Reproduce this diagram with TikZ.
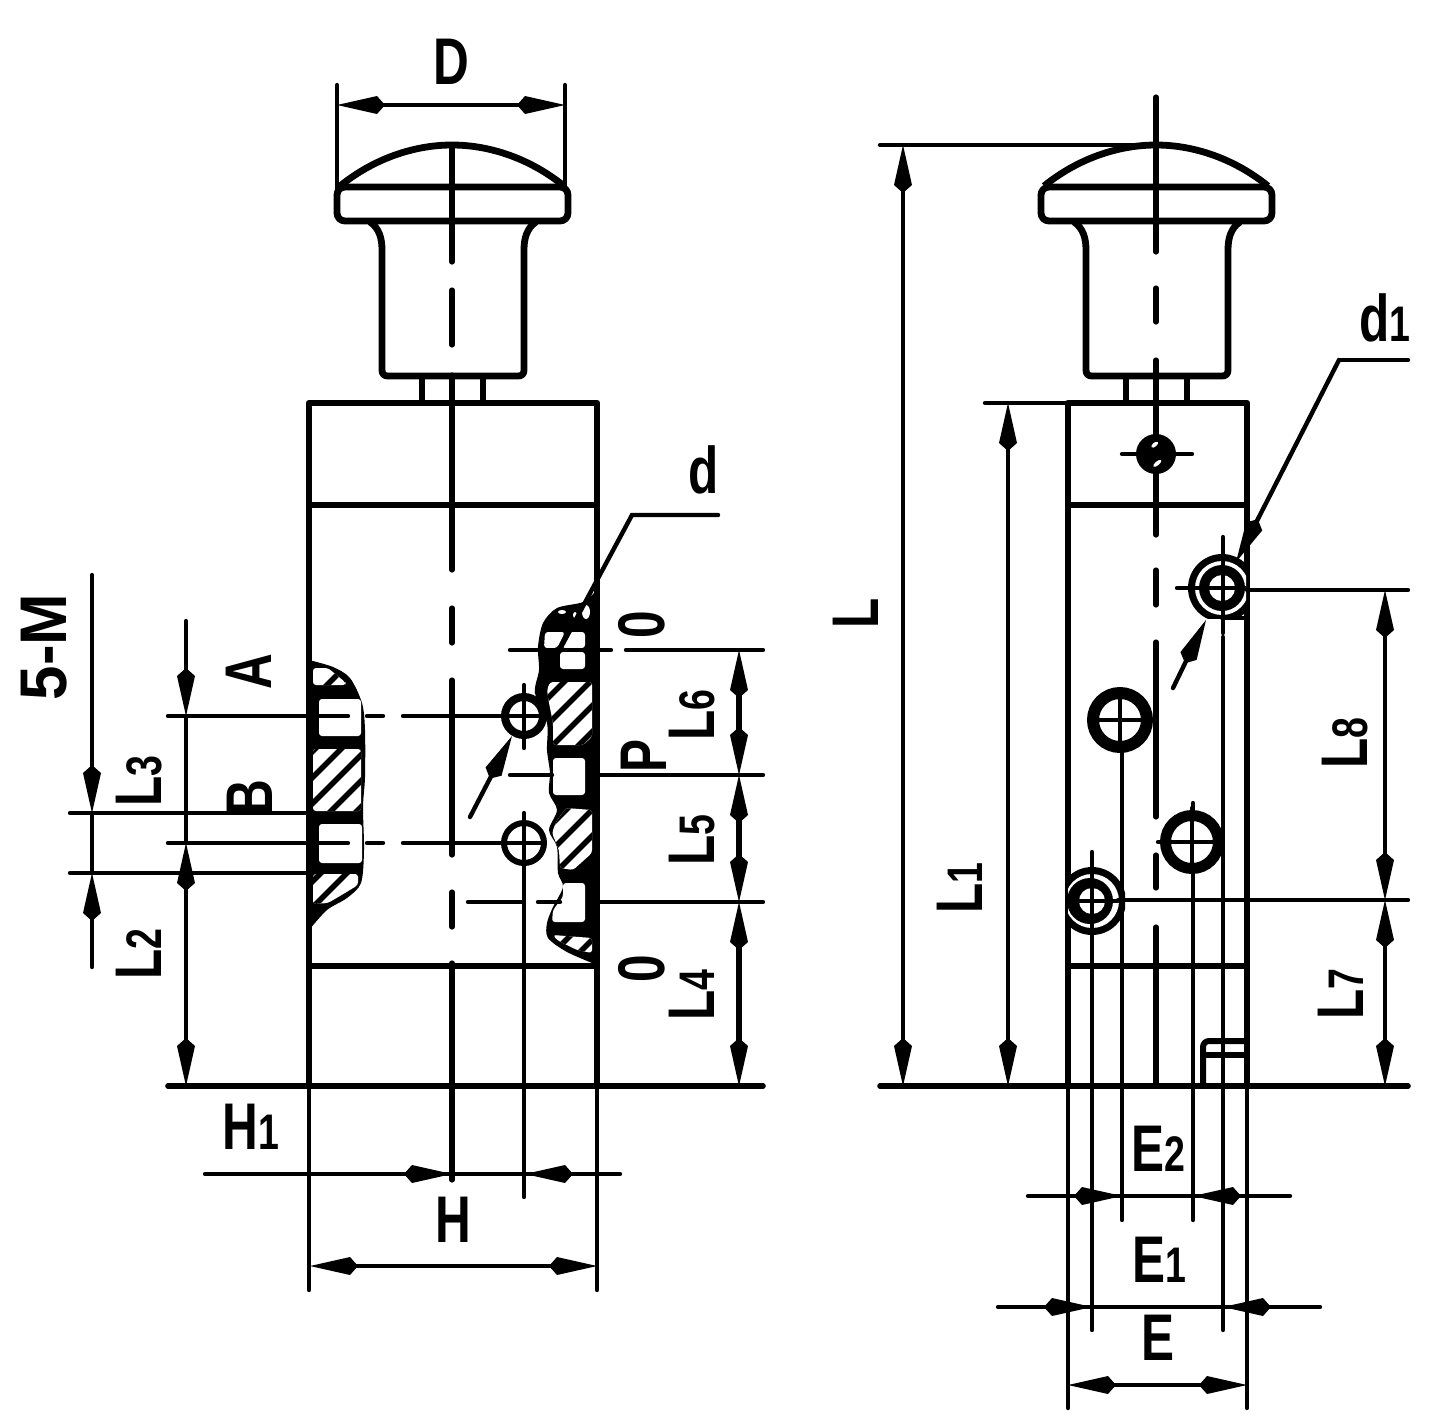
\documentclass[tikz,border=0pt]{standalone}
\usepackage{fontspec}
\setmainfont{Liberation Sans}
\usetikzlibrary{arrows.meta}
\newcommand{\idx}[1]{{\fontsize{25}{25}\selectfont #1}}
\newcommand{\hatchcell}[1]{%
  \begin{scope}
    \clip[rounded corners=1.5pt] #1;
    \fill[white] (0,0) rectangle (1447,1426);
    \foreach \c in {1012,1038,...,1610} \draw[hatchline] ({\c-500},500) -- ({\c-1100},1100);
  \end{scope}}
\tikzset{%
  >={Kite[length=24pt,width=9pt,inset=4pt]},
  outline/.style={draw,line width=3.4pt,line join=round},
  thinline/.style={draw,line width=2.2pt,line cap=round},
  hatchline/.style={line width=2.8pt},
  portcell/.style={fill=white,rounded corners=1.5pt},
  dimline/.style={thinline,<->},
  tipline/.style={thinline,->},
  dimlabel/.style={inner sep=0pt,xscale=.75,font=\fontsize{33}{33}\selectfont\bfseries},
  rotlabel/.style={rotate=90,dimlabel},
}
\begin{document}
\begin{tikzpicture}[x=0.5pt,y=-0.5pt]
  \useasboundingbox (0,0) rectangle (1447,1426);

  % Knob, neck and stem of both views
  \foreach \cx in {452,1156} {
    \begin{scope}[shift={(\cx,0)}]
      \path[outline] (-112,186) .. controls (-80,160) and (-40,145) .. (0,145) .. controls (40,145) and (80,160) .. (112,186);
      \path[outline,rounded corners=4pt] (-115,187) rectangle (116,221);
      \path[outline] (-82,222) .. controls (-73,228) and (-70,238) .. (-70,250) -- (-70,370)
        .. controls (-70,374) and (-68,376) .. (-64,376) -- (66,376) .. controls (70,376) and (72,374) .. (72,370)
        -- (72,250) .. controls (72,238) and (75,228) .. (84,222);
      \path[thinline,line width=3pt,line cap=butt] (-30,376) -- (-30,403) (31,376) -- (31,403);
    \end{scope}
  }

  % Front view, cut-away on the left side
  \fill plot[smooth] coordinates {(309,660) (333,667) (350,678) (362,703) (365,730) (365,777) (363,807) (364,850) (361,883) (347,898) (327,910) (309,930)} -- cycle;
  \hatchcell{(313,668) -- (328,668) -- (345,682) -- (346,685) -- (313,685) -- cycle}
  \fill[portcell] (319,699) rectangle (361,736);
  \hatchcell{(313,749) rectangle (361,811)}
  \fill[portcell] (319,824) rectangle (362,863);
  \hatchcell{(313,874) -- (358,874) -- (358,885) -- (345,893) -- (328,903) -- (313,904) -- cycle}

  % Front view, cut-away on the right side
  \fill plot[smooth] coordinates {(597,590) (583,602) (557,608) (543,623) (538,647) (539,670) (535,693) (547,723) (547,750) (550,773) (549,793) (557,810) (549,830) (557,847) (558,873) (563,887) (553,907) (547,923) (548,938) (567,952) (597,965)} -- cycle;
  \fill[white] (562,612) ellipse (4 and 2) (575,615) ellipse (2 and 3) (586,612) ellipse (4 and 7);
  \fill[portcell] (545,632) -- (565,632) -- (557,648) -- (544,648) -- cycle;
  \fill[portcell] (570,632) -- (585,632) -- (585,648) -- (562,648) -- cycle;
  \fill[portcell] (560,652) rectangle (585,669);
  \hatchcell{(550,682) -- (592,682) -- (592,737) -- (583,745) -- (553,745) -- (553,723) -- (549,703) -- (547,690) -- cycle}
  \fill[portcell] (553,758) rectangle (585,795);
  \hatchcell{(566,808) -- (592,810) -- (592,853) -- (573,870) -- (560,868) -- (559,850) -- (552,833) -- (556,822) -- cycle}
  \fill[portcell] (563,883) -- (585,883) -- (585,922) -- (552,922) -- (553,910) -- (563,897) -- cycle;
  \hatchcell{(553,935) -- (592,938) -- (592,953) -- (577,950) -- (557,940) -- cycle}

  % Front view, body
  \path[outline] (309,403) rectangle (597,1086);
  \path[outline] (309,505) -- (597,505) (309,966) -- (597,966);

  % Front view, centre line and holes
  \foreach \ya/\yb in {145/262,290/345,375/570,608/643,680/855,892/927,963/1180}
    \path[thinline,line width=2.6pt] (452,\ya) -- (452,\yb);
  \path[thinline] (168,716) -- (348,716) (367,716) -- (383,716) (403,716) -- (500,716);
  \path[thinline] (168,843) -- (348,843) (367,843) -- (383,843) (403,843) -- (503,843);
  \path[thinline] (524,685) -- (524,748) (524,813) -- (524,1197);
  \path[draw,line width=4pt,fill=white] (524,716) circle (19);
  \path[draw,line width=3pt,fill=white] (524,843) circle (20);
  \path[thinline] (505,716) -- (543,716) (524,697) -- (524,735) (505,843) -- (543,843) (524,823) -- (524,862);
  \path[tipline] (470,817) -- (512,736);
  \path[thinline] (718,515) -- (632,515) -- (537,692);

  % Front view, extension lines
  \path[thinline] (510,650) -- (611,650) (626,650) -- (763,650);
  \path[thinline] (510,775) -- (552,775) (597,775) -- (763,775);
  \path[thinline] (468,902) -- (524,902) (538,902) -- (560,902) (597,902) -- (763,902);
  \path[thinline,line width=2.8pt] (168,1086) -- (763,1086);
  \path[thinline] (70,813) -- (309,813) (70,873) -- (309,873);
  \path[thinline] (337,85) -- (337,190) (565,85) -- (565,190);
  \path[thinline] (309,1086) -- (309,1290) (597,1086) -- (597,1290);

  % Front view, dimensions
  \path[dimline] (337,105) -- (565,105);
  \path[tipline] (186,621) -- (186,716);
  \path[thinline] (186,716) -- (186,843);
  \path[dimline] (186,843) -- (186,1086);
  \path[tipline] (92,575) -- (92,813);
  \path[thinline] (92,813) -- (92,873);
  \path[tipline] (92,967) -- (92,873);
  \path[dimline,line width=2.6pt] (739,650) -- (739,775);
  \path[dimline,line width=2.6pt] (739,775) -- (739,902);
  \path[dimline,line width=2.6pt] (739,902) -- (739,1086);
  \path[thinline] (205,1174) -- (620,1174);
  \path[tipline] (403,1174) -- (452,1174);
  \path[tipline] (575,1174) -- (525,1174);
  \path[dimline] (310,1266) -- (597,1266);

  % Side view, body
  \path[outline] (1068,403) rectangle (1247,1086);
  \path[outline] (1068,505) -- (1247,505) (1068,966) -- (1247,966);
  \path[outline,rounded corners=3pt,line width=3pt] (1203,1086) -- (1203,1041) -- (1247,1041);
  \path[thinline,line width=2.6pt] (1203,1055) -- (1247,1055);

  % Side view, centre line
  \foreach \ya/\yb in {97/252,288/322,360/535,570/605,642/817,855/888,927/1086}
    \path[thinline,line width=2.6pt] (1156,\ya) -- (1156,\yb);

  % Side view, vertical extension lines
  \path[thinline] (1092,852) -- (1092,1330) (1122,750) -- (1122,1220) (1193,803) -- (1193,1220) (1223,637) -- (1223,1330);
  \path[thinline] (1068,1086) -- (1068,1408) (1247,1086) -- (1247,1408);
  \path[thinline] (1223,537) -- (1223,633) (1177,588) -- (1205,588);

  % Side view, holes
  \path[fill] (1156,454) circle (20);
  \fill[white,rotate around={40:(1156,454)}] (1161,446) ellipse (4 and 2) (1151,462) ellipse (5 and 2);
  \path[thinline] (1122,454) -- (1192,454);
  \begin{scope}
    \clip (1180,540) rectangle (1246,618);
    \path[fill] (1222,588) circle (34);
    \fill[white] (1222,588) circle (27);
    \path[fill] (1222,588) circle (23);
    \fill[white] (1222,588) circle (13);
    \path[thinline] (1190,588) -- (1246,588) (1223,555) -- (1223,620);
  \end{scope}
  \path[thinline] (1222,618) -- (1247,618);
  \path[draw,line width=6pt,fill=white] (1120,720) circle (27);
  \path[thinline] (1093,720) -- (1147,720) (1120,693) -- (1120,747);
  \path[draw,line width=5.5pt,fill=white] (1192,842) circle (26.5);
  \path[thinline] (1158,842) -- (1218,842) (1192,808) -- (1192,868);
  \begin{scope}
    \clip (1068,866) rectangle (1125,936);
    \path[fill] (1092,901) circle (34);
    \fill[white] (1092,901) circle (27);
    \path[fill] (1090,901) circle (23);
    \fill[white] (1092,901) circle (13);
    \path[thinline] (1068,901) -- (1118,901) (1092,870) -- (1092,932);
  \end{scope}
  \path[tipline] (1173,688) -- (1206,620);
  \path[thinline] (1408,360) -- (1339,360);
  \path[tipline] (1339,360) -- (1236,562);

  % Side view, extension lines
  \path[thinline] (880,145) -- (1156,145) (985,403) -- (1068,403);
  \path[thinline] (1247,590) -- (1408,590) (1118,900) -- (1408,900);
  \path[thinline,line width=2.8pt] (880,1086) -- (1408,1086);

  % Side view, dimensions
  \path[dimline] (903,145) -- (903,1086);
  \path[dimline] (1008,403) -- (1008,1086);
  \path[dimline] (1385,590) -- (1385,900);
  \path[dimline] (1385,900) -- (1385,1086);
  \path[thinline] (1028,1196) -- (1290,1196);
  \path[tipline] (1072,1196) -- (1122,1196);
  \path[tipline] (1243,1196) -- (1193,1196);
  \path[thinline] (998,1307) -- (1320,1307);
  \path[tipline] (1045,1307) -- (1092,1307);
  \path[tipline] (1272,1307) -- (1223,1307);
  \path[dimline] (1068,1385) -- (1247,1385);

  % Labels, front view
  \node[dimlabel] (labD) at (451,62) {D};
  \node[dimlabel] (labd) at (704,470) {d};
  \node[rotlabel,xscale=1.25] (labM) at (44,647) {5-M};
  \node[rotlabel] (labA) at (249,672) {A};
  \node[rotlabel] (labB) at (250,798) {B};
  \node[rotlabel] (labLc) at (139,781) {L\idx{3}};
  \node[rotlabel] (labLb) at (139,954) {L\idx{2}};
  \node[rotlabel] (labOa) at (642,625) {0};
  \node[rotlabel] (labP) at (644,756) {P};
  \node[rotlabel] (labOb) at (642,969) {0};
  \node[rotlabel] (labLf) at (692,715) {L\idx{6}};
  \node[rotlabel] (labLe) at (692,840) {L\idx{5}};
  \node[rotlabel] (labLd) at (692,995) {L\idx{4}};
  \node[dimlabel] (labHa) at (251,1127) {H\idx{1}};
  \node[dimlabel] (labH) at (453,1220) {H};

  % Labels, side view
  \node[rotlabel] (labL) at (856,613) {L};
  \node[rotlabel] (labLa) at (960,888) {L\idx{1}};
  \node[rotlabel] (labLh) at (1345,743) {L\idx{8}};
  \node[rotlabel] (labLg) at (1341,994) {L\idx{7}};
  \node[dimlabel] (labda) at (1385,318) {d\idx{1}};
  \node[dimlabel] (labEc) at (1158,1149) {E\idx{2}};
  \node[dimlabel] (labEb) at (1159,1260) {E\idx{1}};
  \node[dimlabel] (labE) at (1158,1338) {E};
\end{tikzpicture}
\end{document}
